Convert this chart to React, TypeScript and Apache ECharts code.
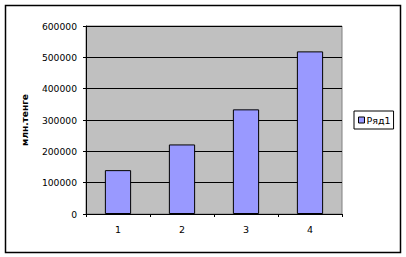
import React, { useEffect, useRef } from "react";
import * as echarts from "echarts";

const categories = ["1", "2", "3", "4"];
const seriesName = "Ряд1";
const values = [140000, 222000, 334000, 519000];
const axisName = "млн.тенге";

export default function App() {
  const ref = useRef<HTMLDivElement>(null);
  useEffect(() => {
    const chart = echarts.init(ref.current!, null, { renderer: "svg" });
    const font = "DejaVu Sans, Verdana, sans-serif";
    chart.setOption({
      animation: false,
      backgroundColor: "#ffffff",
      textStyle: { fontFamily: font },
      grid: {
        left: 86,
        top: 26,
        right: 64,
        bottom: 43,
        show: true,
        backgroundColor: "#C0C0C0",
        borderColor: "#808080",
        borderWidth: 1,
      },
      legend: {
        data: [seriesName],
        left: 354,
        top: 111,
        orient: "vertical",
        icon: "rect",
        itemWidth: 6,
        itemHeight: 6,
        itemGap: 2,
        padding: [4, 3, 4, 4],
        borderColor: "#000",
        borderWidth: 1,
        textStyle: { fontFamily: font, fontSize: 9.5, color: "#000", padding: [0, 0, 0, -3] },
        itemStyle: { borderColor: "#000", borderWidth: 1 },
      },
      xAxis: {
        type: "category",
        data: categories,
        axisLine: { lineStyle: { color: "#000", width: 1 } },
        axisTick: { show: true, length: 3, lineStyle: { color: "#000" } },
        axisLabel: { color: "#000", fontSize: 9.5, fontFamily: font, margin: 10 },
        splitLine: { show: false },
      },
      yAxis: {
        type: "value",
        min: 0,
        max: 600000,
        interval: 100000,
        name: axisName,
        nameLocation: "middle",
        nameGap: 57,
        nameTextStyle: { color: "#000", fontSize: 9, fontWeight: "bold", fontFamily: font },
        axisLine: { show: true, lineStyle: { color: "#000", width: 1 } },
        axisTick: { show: true, length: 3, lineStyle: { color: "#000" } },
        axisLabel: {
          color: "#000",
          fontSize: 9.2,
          fontFamily: font,
          margin: 9,
          formatter: (v: number) => String(v),
        },
        splitLine: { show: true, lineStyle: { color: "#000", width: 1 } },
      },
      series: [
        {
          name: seriesName,
          type: "bar",
          data: values,
          barCategoryGap: "59%",
          itemStyle: { color: "#9999FF", borderColor: "#000", borderWidth: 1 },
        },
      ],
      graphic: [
        {
          type: "rect",
          shape: { x: 5.5, y: 5.5, width: 395, height: 247 },
          style: { fill: "none", stroke: "#000", lineWidth: 1.5 },
          silent: true,
        },
      ],
    });
    return () => chart.dispose();
  }, []);
  return (
    <div
      ref={ref}
      style={{ position: "fixed", left: 0, top: 0, width: 406, height: 257 }}
    />
  );
}
